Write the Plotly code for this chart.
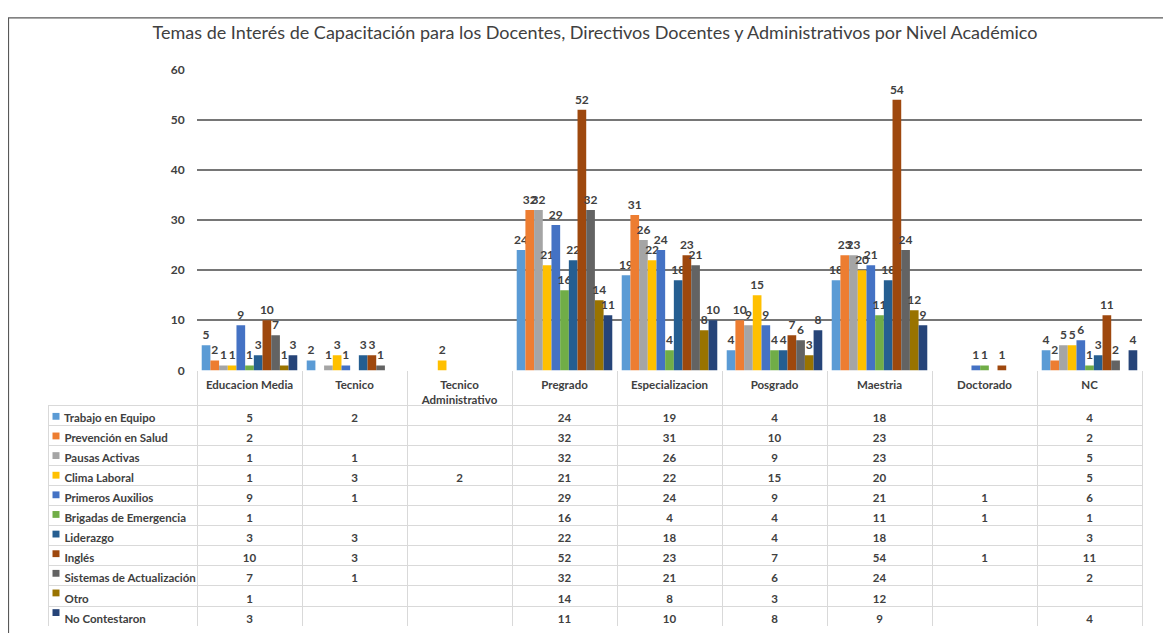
import plotly.graph_objects as go

W, H = 1171, 633
OFF = 8  # page body margin

categories = ["Educacion Media", "Tecnico", "Tecnico Administrativo", "Pregrado",
              "Especializacion", "Posgrado", "Maestria", "Doctorado", "NC"]
category_labels = ["Educacion Media", "Tecnico", "Tecnico<br>Administrativo", "Pregrado",
                   "Especializacion", "Posgrado", "Maestria", "Doctorado", "NC"]

series_names = ["Trabajo en Equipo", "Prevención en Salud", "Pausas Activas", "Clima Laboral",
                "Primeros Auxilios", "Brigadas de Emergencia", "Liderazgo", "Inglés",
                "Sistemas de Actualización", "Otro", "No Contestaron"]

trabajo_en_equipo = [5, 2, None, 24, 19, 4, 18, None, 4]
prevencion_en_salud = [2, None, None, 32, 31, 10, 23, None, 2]
pausas_activas = [1, 1, None, 32, 26, 9, 23, None, 5]
clima_laboral = [1, 3, 2, 21, 22, 15, 20, None, 5]
primeros_auxilios = [9, 1, None, 29, 24, 9, 21, 1, 6]
brigadas_de_emergencia = [1, None, None, 16, 4, 4, 11, 1, 1]
liderazgo = [3, 3, None, 22, 18, 4, 18, None, 3]
ingles = [10, 3, None, 52, 23, 7, 54, 1, 11]
sistemas_de_actualizacion = [7, 1, None, 32, 21, 6, 24, None, 2]
otro = [1, None, None, 14, 8, 3, 12, None, None]
no_contestaron = [3, None, None, 11, 10, 8, 9, None, 4]

series_values = [trabajo_en_equipo, prevencion_en_salud, pausas_activas, clima_laboral,
                 primeros_auxilios, brigadas_de_emergencia, liderazgo, ingles,
                 sistemas_de_actualizacion, otro, no_contestaron]

colors = ["#5B9BD5", "#ED7D31", "#A5A5A5", "#FFC000", "#4472C4", "#70AD47",
          "#255E91", "#9E480E", "#636363", "#997300", "#264478"]

y_ticks = [0, 10, 20, 30, 40, 50, 60]

FONT = "Lato"
TXT = "#404040"


def px(x):
    return (x - OFF) / W


def py(y):
    return 1 - (y - OFF) / H


fig = go.Figure()

for name, vals, col in zip(series_names, series_values, colors):
    fig.add_trace(go.Bar(
        name=name, x=categories, y=vals,
        marker=dict(color=col, line=dict(width=0)),
        text=[("" if v is None else str(v)) for v in vals],
        textposition="outside", constraintext="none", cliponaxis=False,
        textfont=dict(family=FONT, size=12, color=TXT, weight="bold"),
    ))

# data table below the chart
NB = "\u00a0"
first_col = [NB * 3 + n.replace(" ", NB) for n in series_names]
cols = [first_col]
for i in range(len(categories)):
    cols.append([("" if s[i] is None else str(s[i])) for s in series_values])

row_h = 20.1
hdr_h = 20
tbl_top = 406
fig.add_trace(go.Table(
    domain=dict(x=[px(48), px(1142)], y=[py(tbl_top + 11 * row_h + 6), py(tbl_top - hdr_h)]),
    columnwidth=[149] + [105] * len(categories),
    header=dict(values=[""] * (len(categories) + 1), height=hdr_h,
                fill=dict(color="rgba(0,0,0,0)"), line=dict(color="rgba(0,0,0,0)", width=0)),
    cells=dict(values=cols, height=row_h,
               align=["left"] + ["center"] * len(categories),
               font=dict(family=FONT, size=11.5, color=TXT, weight="bold"),
               line=dict(color="#D9D9D9", width=1),
               fill=dict(color="white")),
))

# legend keys in the table's first column
shapes = [dict(type="rect", xref="paper", yref="paper",
               x0=px(8.5), x1=1.05, y0=-0.05, y1=py(10),
               line=dict(color="#595959", width=1.2), fillcolor="rgba(0,0,0,0)", layer="below")]
for i, col in enumerate(colors):
    cy = tbl_top + (i + 0.5) * row_h + 2
    shapes.append(dict(type="rect", xref="paper", yref="paper",
                       x0=px(52.5), x1=px(59.5), y0=py(cy + 3.5), y1=py(cy - 3.5),
                       line=dict(width=0), fillcolor=col, layer="above"))

y0_px, y60_px = 371, 63
fig.update_layout(
    width=W, height=H,
    margin=dict(l=0, r=0, t=0, b=0),
    paper_bgcolor="white", plot_bgcolor="white",
    showlegend=False,
    barmode="group", bargap=0.09, bargroupgap=0.0,
    title=dict(text="Temas de Interés de Capacitación para los Docentes, Directivos Docentes y Administrativos por Nivel Académico",
               x=px(595), xanchor="center", y=py(33), yanchor="middle", yref="container",
               font=dict(family=FONT, size=18, color=TXT)),
    xaxis=dict(domain=[px(197), px(1142)], type="category",
               tickmode="array", tickvals=categories, ticktext=category_labels,
               tickson="boundaries", ticks="outside", ticklen=35, tickcolor="#D9D9D9",
               tickwidth=1, showgrid=False, showline=False, zeroline=False,
               ticklabelstandoff=6,
               tickfont=dict(family=FONT, size=11.5, color=TXT, weight="bold")),
    yaxis=dict(domain=[py(y0_px), py(y60_px)], range=[0, 60],
               tickvals=y_ticks, showgrid=True, gridcolor="#767676", gridwidth=1.5,
               zeroline=False, showline=False, ticks="outside", ticklen=9, tickcolor="rgba(0,0,0,0)",
               tickfont=dict(family=FONT, size=12, color=TXT, weight="bold")),
    shapes=shapes,
)

fig.write_html("out.html")
